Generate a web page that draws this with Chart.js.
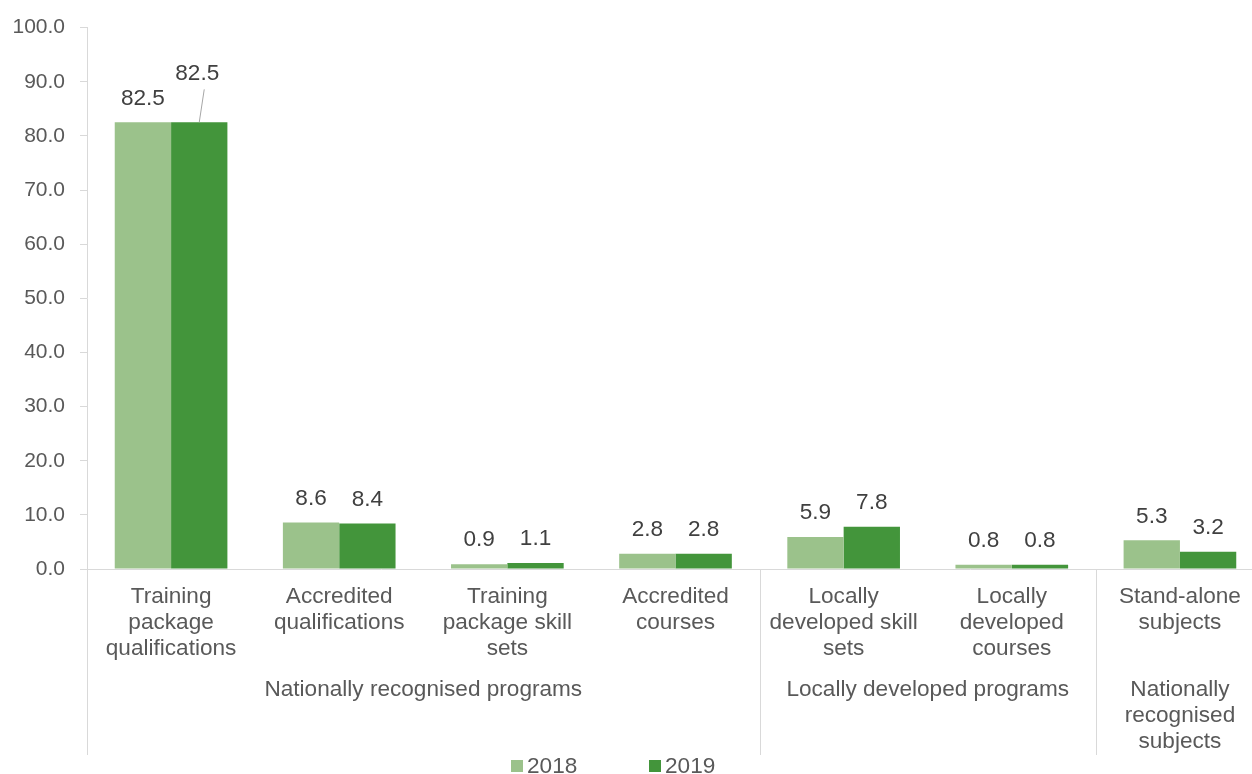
<!DOCTYPE html>
<html>
<head>
<meta charset="utf-8">
<script src="https://cdn.jsdelivr.net/npm/chart.js@4"></script>
<style>
  html, body { margin: 0; padding: 0; background: #fff; overflow: hidden; }
  #wrap { width: 1265px; height: 774px; position: relative; }
</style>
</head>
<body>
<div id="wrap"><canvas id="chart"></canvas></div>
<script>
// data
const categories = [
    ['Training', 'package', 'qualifications'],
    ['Accredited', 'qualifications'],
    ['Training', 'package skill', 'sets'],
    ['Accredited', 'courses'],
    ['Locally', 'developed skill', 'sets'],
    ['Locally', 'developed', 'courses'],
    ['Stand-alone', 'subjects']
];
const groups = [
    { label: ['Nationally recognised programs'], from: 0, to: 3 },
    { label: ['Locally developed programs'], from: 4, to: 5 },
    { label: ['Nationally', 'recognised', 'subjects'], from: 6, to: 6 }
];
const values2018 = [82.5, 8.6, 0.9, 2.8, 5.9, 0.8, 5.3];
const values2019 = [82.5, 8.4, 1.1, 2.8, 7.8, 0.8, 3.2];
const seriesNames = ['2018', '2019'];

const FONT = '"Liberation Sans", Arial, sans-serif';
const TEXT = '#595959';
const AXIS = '#d9d9d9';
const LABEL_SIZE = 22.6;

// labels above bars; the 2019 first label is lifted with a leader line
const barLabels = {
    id: 'barLabels',
    afterDatasetsDraw(chart) {
        const ctx = chart.ctx;
        ctx.save();
        ctx.font = LABEL_SIZE + 'px ' + FONT;
        ctx.fillStyle = '#404040';
        ctx.textAlign = 'center';
        ctx.textBaseline = 'middle';
        chart.data.datasets.forEach(function (ds, di) {
            chart.getDatasetMeta(di).data.forEach(function (bar, i) {
                const txt = ds.data[i].toFixed(1);
                if (di === 1 && i === 0) {
                    ctx.fillText(txt, bar.x - 2, bar.y - 49);
                    ctx.strokeStyle = '#a6a6a6';
                    ctx.lineWidth = 1;
                    ctx.beginPath();
                    ctx.moveTo(bar.x + 5, bar.y - 33);
                    ctx.lineTo(bar.x, bar.y);
                    ctx.stroke();
                } else {
                    ctx.fillText(txt, bar.x, bar.y - 24);
                }
            });
        });
        ctx.restore();
    }
};

// group labels, separators and legend under the x axis
const groupAxis = {
    id: 'groupAxis',
    afterDraw(chart) {
        const ctx = chart.ctx;
        const x = chart.scales.x;
        const area = chart.chartArea;
        const step = area.width / categories.length;
        const bottom = x.bottom;
        ctx.save();
        ctx.strokeStyle = AXIS;
        ctx.lineWidth = 1;
        groups.forEach(function (g) {
            const left = x.getPixelForValue(g.from) - step / 2;
            const right = x.getPixelForValue(g.to) + step / 2;
            ctx.beginPath();
            ctx.moveTo(Math.round(left) + 0.5, area.bottom);
            ctx.lineTo(Math.round(left) + 0.5, bottom);
            ctx.stroke();
            ctx.font = LABEL_SIZE + 'px ' + FONT;
            ctx.fillStyle = TEXT;
            ctx.textAlign = 'center';
            ctx.textBaseline = 'middle';
            g.label.forEach(function (line, li) {
                ctx.fillText(line, (left + right) / 2, 690 + li * 26);
            });
        });

        // legend
        const items = chart.data.datasets;
        let lx = 511;
        const ly = 766;
        items.forEach(function (ds) {
            ctx.fillStyle = ds.backgroundColor;
            ctx.fillRect(lx, ly - 6, 12, 12);
            ctx.fillStyle = TEXT;
            ctx.textAlign = 'left';
            ctx.fillText(ds.label, lx + 16, ly + 1);
            lx += 138;
        });
        ctx.restore();
    }
};

new Chart(document.getElementById('chart'), {
    type: 'bar',
    data: {
        labels: categories,
        datasets: [
            {
                label: seriesNames[0],
                data: values2018,
                backgroundColor: '#9bc28b',
                categoryPercentage: 0.67,
                barPercentage: 1
            },
            {
                label: seriesNames[1],
                data: values2019,
                backgroundColor: '#43953b',
                categoryPercentage: 0.67,
                barPercentage: 1
            }
        ]
    },
    options: {
        responsive: true,
        maintainAspectRatio: false,
        animation: false,
        layout: { padding: { top: 9, left: 0, right: 1, bottom: 19 } },
        plugins: {
            legend: { display: false },
            tooltip: { enabled: false }
        },
        scales: {
            x: {
                grid: { display: false, drawTicks: false },
                border: { display: true, color: AXIS, width: 1 },
                ticks: {
                    color: TEXT,
                    font: { family: FONT, size: LABEL_SIZE, lineHeight: 1.15 },
                    padding: 15,
                    maxRotation: 0,
                    autoSkip: false
                },
                afterFit: function (scale) { scale.height = 186; }
            },
            y: {
                min: 0,
                max: 100,
                grid: {
                    drawOnChartArea: false,
                    drawTicks: true,
                    tickLength: 7,
                    color: AXIS
                },
                border: { display: true, color: AXIS, width: 1 },
                ticks: {
                    stepSize: 10,
                    color: TEXT,
                    font: { family: FONT, size: 21 },
                    padding: 15,
                    callback: function (v) { return v.toFixed(1); }
                },
                afterFit: function (scale) { scale.width = 87; }
            }
        }
    },
    plugins: [barLabels, groupAxis]
});
</script>
</body>
</html>
